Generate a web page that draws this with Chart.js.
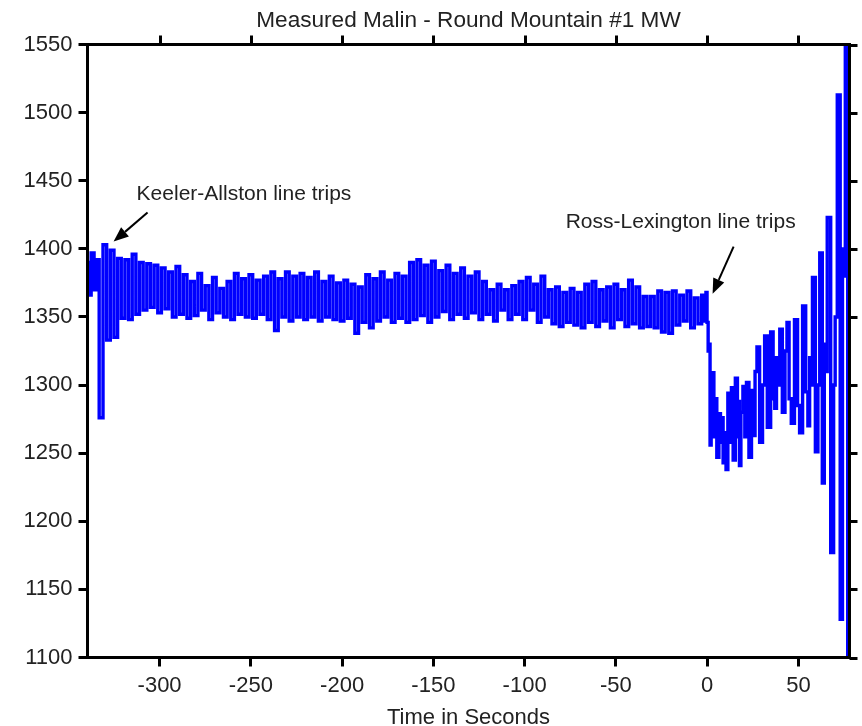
<!DOCTYPE html>
<html><head><meta charset="utf-8">
<script src="https://cdn.jsdelivr.net/npm/chart.js@4"></script>
<style>html,body{margin:0;padding:0;background:#fff}#wrap{width:862px;height:726px}</style>
</head><body><div id="wrap"><canvas id="c" width="862" height="726"></canvas></div>
<script>
// ---- data ----
const timeSec = [
 -339.5,-338.5,-336.5,-335.3,-334.2,-332,-330,-328,-326,-324,-322,
 -320,-318,-316,-314,-312,-310,-308,-306,-304,-302,
 -300,-298,-296,-294,-292,-290,-288,-286,-284,-282,
 -280,-278,-276,-274,-272,-270,-268,-266,-264,-262,
 -260,-258,-256,-254,-252,-250,-248,-246,-244,-242,
 -240,-238,-236,-234,-232,-230,-228,-226,-224,-222,
 -220,-218,-216,-214,-212,-210,-208,-206,-204,-202,
 -200,-198,-196,-194,-192,-190,-188,-186,-184,-182,
 -180,-178,-176,-174,-172,-170,-168,-166,-164,-162,
 -160,-158,-156,-154,-152,-150,-148,-146,-144,-142,
 -140,-138,-136,-134,-132,-130,-128,-126,-124,-122,
 -120,-118,-116,-114,-112,-110,-108,-106,-104,-102,
 -100,-98,-96,-94,-92,-90,-88,-86,-84,-82,
 -80,-78,-76,-74,-72,-70,-68,-66,-64,-62,
 -60,-58,-56,-54,-52,-50,-48,-46,-44,-42,
 -40,-38,-36,-34,-32,-30,-28,-26,-24,-22,
 -20,-18,-16,-14,-12,-10,-8,-6,-4,-2,
 -1.0,-0.3,0.2,0.9,1.3,1.9,2.5,3.4,4.0,4.7,
 5.9,7.0,7.6,8.3,9.2,10.0,10.7,12.0,12.8,13.8,
 14.7,16.2,17.0,17.4,18.0,19.0,20.2,21.1,22.0,23.8,
 24.8,25.7,26.8,27.8,29.7,31.0,32.0,33.9,35.7,36.6,
 37.5,38.5,39.3,40.3,42.1,43.2,44.3,45.5,46.7,49.0,
 50.1,51.2,53.4,54.6,55.8,56.5,57.2,58.2,60.4,61.0,
 62.4,63.8,64.6,65.0,66.6,68.8,69.8,70.5,72.1,73.7,
 74.6,75.0,76.4,77.6
];
const mwValues = [
 1390,1366,1397,1370,1392,1276,1403,1333,1399,1335,1393,
 1349,1392,1348,1396,1352,1390,1355,1389,1357,1388,
 1353,1386,1356,1383,1350,1387,1352,1381,1349,1376,
 1351,1382,1355,1373,1348,1379,1353,1371,1350,1376,
 1348,1382,1352,1378,1350,1381,1349,1377,1352,1380,
 1348,1383,1340,1378,1350,1383,1347,1380,1350,1382,
 1348,1379,1350,1383,1347,1376,1350,1380,1348,1375,
 1347,1377,1349,1374,1338,1372,1346,1381,1342,1378,
 1347,1383,1350,1377,1346,1382,1349,1380,1346,1390,
 1348,1392,1351,1388,1346,1391,1350,1384,1354,1388,
 1348,1382,1352,1386,1349,1380,1353,1383,1348,1376,
 1352,1370,1347,1374,1355,1370,1348,1373,1352,1376,
 1348,1379,1355,1374,1346,1380,1350,1370,1345,1372,
 1343,1368,1346,1371,1344,1368,1342,1374,1346,1376,
 1343,1370,1347,1372,1342,1374,1348,1370,1343,1377,
 1345,1372,1342,1365,1343,1365,1342,1369,1339,1368,
 1338,1369,1344,1366,1347,1369,1342,1364,1345,1366,
 1347,1368,1346,1325,1330,1256,1300,1309,1262,1290,
 1247,1279,1258,1276,1243,1265,1238,1294,1258,1298,
 1245,1305,1262,1288,1241,1280,1299,1262,1302,1247,
 1296,1263,1310,1328,1258,1300,1336,1269,1339,1290,
 1283,1320,1300,1341,1280,1325,1346,1290,1272,1348,
 1285,1265,1358,1295,1270,1320,1300,1379,1251,1300,
 1397,1228,1330,1310,1423,1177,1300,1350,1513,1128,
 1400,1380,1555,1095
];
const xTickValues = [-300,-250,-200,-150,-100,-50,0,50];
const yTickValues = [1100,1150,1200,1250,1300,1350,1400,1450,1500,1550];
const chartTitle = 'Measured Malin - Round Mountain #1 MW';
const xAxisTitle = 'Time in Seconds';
const notes = [
  {text:'Keeler-Allston line trips', tx:-312.6, ty:1436.1, from:[-306.6,1426.6], to:[-325.2,1405.3]},
  {text:'Ross-Lexington line trips', tx:-77.5, ty:1415.6, from:[14.5,1401.6], to:[3.0,1367.1]}
];

const FONT = '"Liberation Sans", Arial, Helvetica, sans-serif';

const decor = {
  id:'decor',
  afterDatasetsDraw(chart){
    const ctx = chart.ctx, a = chart.chartArea;
    const xs = chart.scales.x, ys = chart.scales.y;
    ctx.save();
    ctx.strokeStyle = '#000'; ctx.lineWidth = 3;
    ctx.strokeRect(a.left, a.top, a.right - a.left, a.bottom - a.top);
    ctx.beginPath();
    xTickValues.forEach(v => { const p = Math.round(xs.getPixelForValue(v)) + 0.5; ctx.moveTo(p, a.top); ctx.lineTo(p, a.top - 9); });
    yTickValues.forEach(v => { const p = Math.round(ys.getPixelForValue(v)) + 0.5; ctx.moveTo(a.right, p); ctx.lineTo(a.right + 8, p); });
    ctx.stroke();
    ctx.fillStyle = '#222';
    ctx.textAlign = 'center'; ctx.textBaseline = 'alphabetic';
    ctx.font = '22.6px ' + FONT;
    const cx = (a.left + a.right) / 2;
    ctx.fillText(chartTitle, cx, a.top - 17.5);
    ctx.font = '22px ' + FONT;
    ctx.fillText(xAxisTitle, cx, a.bottom + 66);
    ctx.font = '21px ' + FONT;
    ctx.textAlign = 'left';
    notes.forEach(n => {
      ctx.fillStyle = '#222';
      ctx.fillText(n.text, xs.getPixelForValue(n.tx), ys.getPixelForValue(n.ty));
      const x0 = xs.getPixelForValue(n.from[0]), y0 = ys.getPixelForValue(n.from[1]);
      const x1 = xs.getPixelForValue(n.to[0]), y1 = ys.getPixelForValue(n.to[1]);
      const ang = Math.atan2(y1 - y0, x1 - x0), hl = 15, hw = 6;
      const bx = x1 - hl * Math.cos(ang), by = y1 - hl * Math.sin(ang);
      ctx.strokeStyle = '#000'; ctx.lineWidth = 2;
      ctx.beginPath(); ctx.moveTo(x0, y0); ctx.lineTo(bx, by); ctx.stroke();
      ctx.fillStyle = '#000';
      ctx.beginPath();
      ctx.moveTo(x1, y1);
      ctx.lineTo(bx + hw * Math.sin(ang), by - hw * Math.cos(ang));
      ctx.lineTo(bx - hw * Math.sin(ang), by + hw * Math.cos(ang));
      ctx.closePath(); ctx.fill();
    });
    ctx.restore();
  }
};

new Chart(document.getElementById('c'), {
  type:'line',
  data:{datasets:[{
    data: timeSec.map((t,i)=>({x:t, y:mwValues[i]})),
    borderColor:'#0000ff', borderWidth:3.4, borderJoinStyle:'miter', stepped:'middle',
    pointRadius:0, fill:false
  }]},
  options:{
    responsive:false, animation:false, devicePixelRatio:1,
    layout:{padding:{top:44.5, right:12.5, left:0, bottom:0}},
    plugins:{legend:{display:false}, tooltip:{enabled:false}, title:{display:false}},
    scales:{
      x:{type:'linear', min:-339.5, max:78,
        afterBuildTicks: s => { s.ticks = xTickValues.map(v=>({value:v})); },
        afterFit: s => { s.height = 68.5; },
        grid:{display:true, drawOnChartArea:false, drawTicks:true, tickLength:9, color:'#000', lineWidth:3},
        border:{display:false},
        ticks:{color:'#222', font:{family:FONT, size:22}, padding:6, maxRotation:0, autoSkip:false,
          callback: v => String(v)}
      },
      y:{type:'linear', min:1100, max:1550,
        afterBuildTicks: s => { s.ticks = yTickValues.map(v=>({value:v})); },
        afterFit: s => { s.width = 87.5; },
        grid:{display:true, drawOnChartArea:false, drawTicks:true, tickLength:9, color:'#000', lineWidth:3},
        border:{display:false},
        ticks:{color:'#222', font:{family:FONT, size:22}, padding:6, autoSkip:false,
          callback: v => String(v)}
      }
    }
  },
  plugins:[decor]
});
</script></body></html>
